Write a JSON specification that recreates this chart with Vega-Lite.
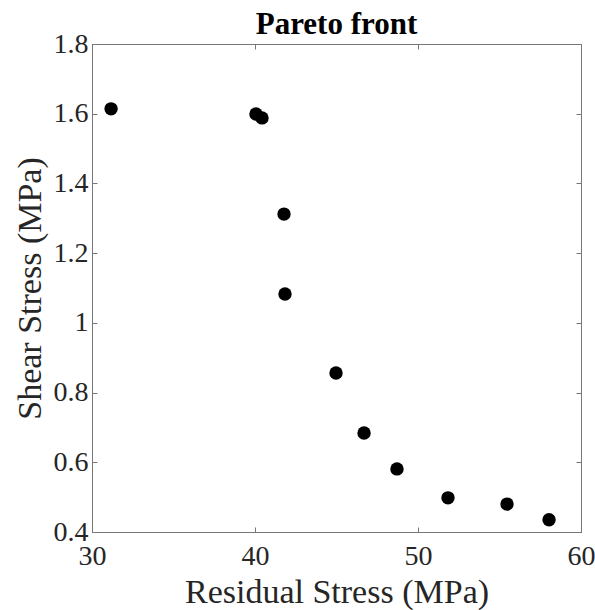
{
  "$schema": "https://vega.github.io/schema/vega-lite/v6.json",
  "autosize": {"type": "none"},
  "padding": {"left": 92, "top": 44, "right": 14, "bottom": 78},
  "width": 489,
  "height": 488,
  "background": "white",
  "title": {"text": "Pareto front", "font": "Liberation Serif", "fontSize": 31, "fontWeight": "bold", "color": "black", "offset": -11},
  "config": {
    "view": {"stroke": "#888888", "strokeWidth": 1},
    "axis": {
      "labelFont": "Liberation Serif", "titleFont": "Liberation Serif",
      "labelFontSize": 28, "titleFontSize": 34, "titleFontWeight": "normal",
      "labelColor": "#262626", "titleColor": "#262626",
      "domainColor": "#777777", "tickColor": "#777777", "tickSize": -5,
      "gridColor": "#ebebeb", "gridOpacity": 1
    }
  },
  "data": {"values": [
    {"residual": 31.17, "shear": 1.614},
    {"residual": 40.06, "shear": 1.599},
    {"residual": 40.43, "shear": 1.588},
    {"residual": 41.78, "shear": 1.312},
    {"residual": 41.84, "shear": 1.083},
    {"residual": 44.97, "shear": 0.856},
    {"residual": 46.69, "shear": 0.684},
    {"residual": 48.71, "shear": 0.581},
    {"residual": 51.84, "shear": 0.498},
    {"residual": 55.46, "shear": 0.480},
    {"residual": 58.04, "shear": 0.435}
  ]},
  "resolve": {"axis": {"x": "independent", "y": "independent"}},
  "layer": [
    {
      "mark": {"type": "circle", "opacity": 0},
      "encoding": {
        "x": {"field": "residual", "type": "quantitative",
          "scale": {"domain": [30, 60], "nice": false, "zero": false},
          "axis": {"orient": "top", "values": [30, 40, 50, 60], "labels": false, "title": null, "grid": false}},
        "y": {"field": "shear", "type": "quantitative",
          "scale": {"domain": [0.4, 1.8], "nice": false, "zero": false},
          "axis": {"orient": "right", "values": [0.4, 0.6, 0.8, 1, 1.2, 1.4, 1.6, 1.8], "labels": false, "title": null, "grid": false}}
      }
    },
    {
      "mark": {"type": "circle", "color": "black", "opacity": 1, "size": 180},
      "encoding": {
        "x": {"field": "residual", "type": "quantitative", "title": "Residual Stress (MPa)",
          "scale": {"domain": [30, 60], "nice": false, "zero": false},
          "axis": {"orient": "bottom", "values": [30, 40, 50, 60], "labelPadding": 15, "titlePadding": 5, "labelFlush": false}},
        "y": {"field": "shear", "type": "quantitative", "title": "Shear Stress (MPa)",
          "scale": {"domain": [0.4, 1.8], "nice": false, "zero": false},
          "axis": {"orient": "left", "values": [0.4, 0.6, 0.8, 1, 1.2, 1.4, 1.6, 1.8], "labelExpr": "datum.value == 1 ? '1' : format(datum.value, '.1f')", "labelPadding": 9, "titlePadding": 6, "labelFlush": false}}
      }
    }
  ]
}
